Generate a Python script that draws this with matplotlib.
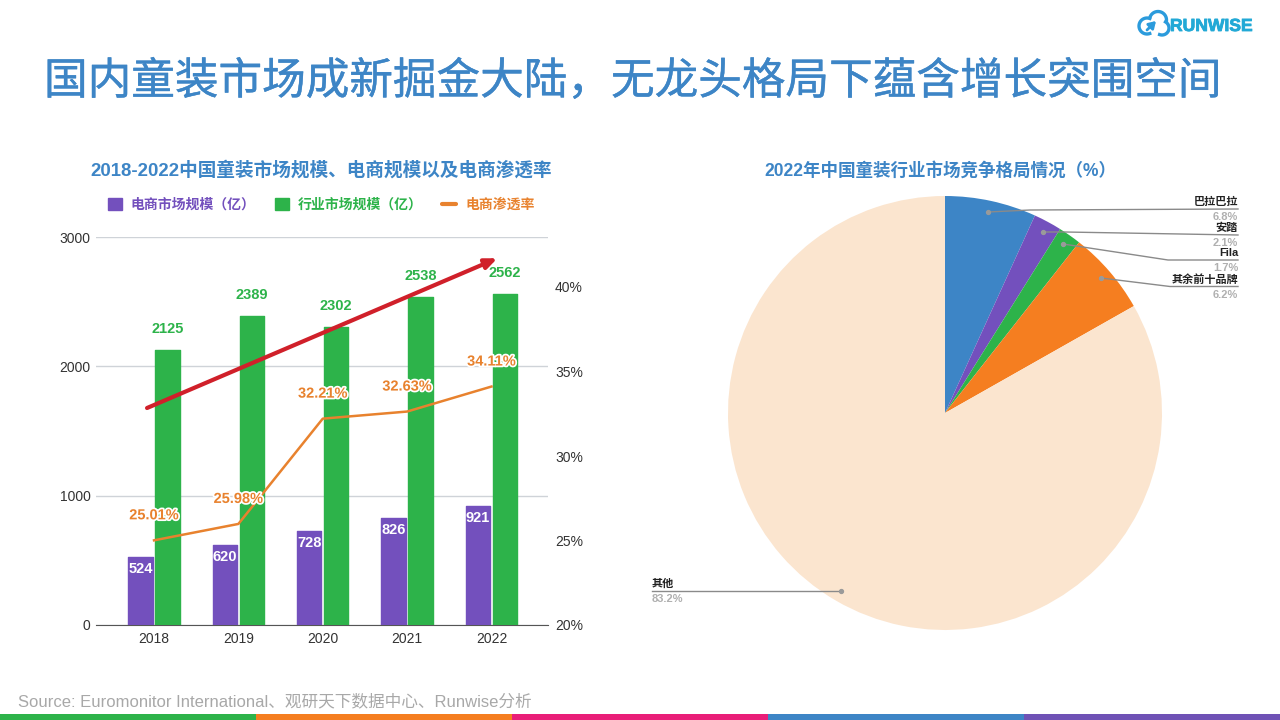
import matplotlib.pyplot as plt
import matplotlib.patheffects as pe
import numpy as np

plt.rcParams['font.family'] = ['Liberation Sans', 'Noto Sans CJK SC']

# 图表数据
years = ['2018', '2019', '2020', '2021', '2022']
ecommerce = [524, 620, 728, 826, 921]
industry = [2125, 2389, 2302, 2538, 2562]
penetration = [25.01, 25.98, 32.21, 32.63, 34.11]
left_ticks = [0, 1000, 2000, 3000]
right_ticks = [20, 25, 30, 35, 40]

brands = ['巴拉巴拉', '安踏', 'Fila', '其余前十品牌', '其他']
shares = [6.8, 2.1, 1.7, 6.2, 83.2]
pie_colors = ['#3d85c6', '#7350bd', '#2db34a', '#f57e20', '#fbe5cf']

strip_colors = ['#2db34a', '#f57e20', '#e91e78', '#3d85c6', '#6f52b5']

BLUE = '#3d85c6'
PURPLE = '#7350bd'
GREEN = '#2db34a'
ORANGE = '#e8822e'

plt.figure(figsize=(12.8, 7.2), dpi=100, facecolor='white')

# 柱状图
ax1 = plt.axes([96 / 1280, 95 / 720, 452 / 1280, 388 / 720])
x = np.arange(len(years))
b1 = plt.bar(x - 0.16, ecommerce, 0.29, color=PURPLE, edgecolor=PURPLE, linewidth=1, joinstyle='round', zorder=3)
b2 = plt.bar(x + 0.16, industry, 0.29, color=GREEN, edgecolor=GREEN, linewidth=1, joinstyle='round', zorder=3)
plt.xlim(-0.688, 4.67)
plt.ylim(0, 3000)
plt.xticks(x, years, fontsize=10, color='#333333')
plt.yticks(left_ticks, fontsize=10, color='#333333')
plt.tick_params(axis='y', length=0, pad=4)
plt.tick_params(axis='x', length=0, pad=5)
plt.grid(axis='y', color='#cfd3d8', linewidth=1, zorder=0)
for s in ['top', 'left', 'right']:
    ax1.spines[s].set_visible(False)
ax1.spines['bottom'].set_color('#555555')
for i in range(len(years)):
    plt.annotate(str(ecommerce[i]), (x[i] - 0.16, ecommerce[i]), xytext=(0, -8.6), textcoords='offset points',
                 ha='center', va='center', color='white', fontsize=10.5, fontweight='bold', zorder=5)
    plt.annotate(str(industry[i]), (x[i] + 0.16, industry[i]), xytext=(0, 15), textcoords='offset points',
                 ha='center', va='center', color=GREEN, fontsize=10.5, fontweight='bold', zorder=5)

# 渗透率折线
ax2 = plt.twinx()
ax2.patch.set_visible(False)
line, = plt.plot(x, penetration, color=ORANGE, linewidth=1.8, zorder=4)
plt.ylim(20, 20 + 388 / 16.9)
plt.yticks(right_ticks, [str(t) + '%' for t in right_ticks], fontsize=10, color='#333333')
plt.tick_params(length=0, pad=5)
for s in ['top', 'left', 'right', 'bottom']:
    ax2.spines[s].set_visible(False)
for i in range(len(years)):
    plt.annotate('%.2f%%' % penetration[i], (x[i], penetration[i]), xytext=(0, 18), textcoords='offset points',
                 ha='center', va='center', color=ORANGE, fontsize=10.5, fontweight='bold', zorder=6,
                 path_effects=[pe.withStroke(linewidth=2.5, foreground='white')])

# 红色箭头
plt.annotate('', xy=(4.07, 41.7), xytext=(-0.083, 32.84),
             arrowprops=dict(arrowstyle='-|>,head_width=0.3,head_length=0.7', color='#d0202a', linewidth=3, shrinkA=0, shrinkB=0))

leg_line, = plt.plot([], [], color=ORANGE, linewidth=3, solid_capstyle='round')
plt.figlegend([b1, b2, leg_line], ['电商市场规模\uff08亿\uff09', '行业市场规模\uff08亿\uff09', '电商渗透率'],
              loc='center', bbox_to_anchor=(321 / 1280, 1 - 205 / 720), ncol=3, frameon=False,
              handlelength=1.0, handleheight=1.0, handletextpad=0.65, columnspacing=1.4,
              labelcolor=[PURPLE, GREEN, ORANGE], prop={'size': 10, 'weight': 'bold'})

# 饼图
plt.axes([728 / 1280, 90 / 720, 434 / 1280, 434 / 720])
plt.pie(shares, colors=pie_colors, startangle=90, counterclock=False, radius=1)
plt.xlim(-1, 1)
plt.ylim(-1, 1)

# 标题和注释,坐标单位是像素
ov = plt.axes([0, 0, 1, 1])
plt.xlim(0, 1280)
plt.ylim(720, 0)
plt.axis('off')

plt.text(633, 82, '国内童装市场成新掘金大陆\uff0c无龙头格局下蕴含增长突围空间', ha='center', va='center',
         fontsize=31.4, color=BLUE, path_effects=[pe.withStroke(linewidth=0.3, foreground=BLUE)])
plt.text(321, 170, '2018-2022中国童装市场规模、电商规模以及电商渗透率', ha='center', va='center',
         fontsize=13.4, color=BLUE, fontweight='bold')
plt.text(940.5, 171, '2022年中国童装行业市场竞争格局情况\uff08%\uff09', ha='center', va='center',
         fontsize=12.65, color=BLUE, fontweight='bold')
plt.text(18, 701, 'Source: Euromonitor International、观研天下数据中心、Runwise分析', ha='left', va='center',
         fontsize=12, color='#a8a8a8')

# 引导线
leaders = [[(988, 212), (1030, 210), (1238, 209)],
           [(1043, 232), (1065, 232), (1238, 235)],
           [(1063, 244), (1168, 260), (1238, 260)],
           [(1101, 278), (1170, 286.5), (1238, 286.5)]]
for i in range(4):
    px = [p[0] for p in leaders[i]]
    py = [p[1] for p in leaders[i]]
    plt.plot(px, py, color='#8a8a8a', linewidth=1)
    plt.plot(px[0], py[0], 'o', color='#9a9a9a', markersize=2.8)
    plt.text(1238, py[2] - 1.5, brands[i], ha='right', va='bottom', fontsize=8, fontweight='bold', color='#222222')
    plt.text(1238, py[2] + 3, '%.1f%%' % shares[i], ha='right', va='top', fontsize=8, fontweight='bold', color='#b0b0b0')
plt.plot([841, 652], [591, 591], color='#8a8a8a', linewidth=1)
plt.plot(841, 591, 'o', color='#9a9a9a', markersize=2.8)
plt.text(652, 588.5, brands[4], ha='left', va='bottom', fontsize=8, fontweight='bold', color='#222222')
plt.text(652, 594, '%.1f%%' % shares[4], ha='left', va='top', fontsize=8, fontweight='bold', color='#b0b0b0')

# 底部色带
plt.bar([128, 384, 640, 896, 1152], [6] * 5, 256, bottom=714, color=strip_colors)
plt.xlim(0, 1280)
plt.ylim(720, 0)

# logo
for cx, cy, r, t0, t1 in [(1147, 26, 8, 70, 290), (1158, 20, 8.5, -5, 165), (1162, 28, 7, 60, -110)]:
    t = np.radians(np.linspace(t0, t1, 30))
    plt.plot(cx + r * np.cos(t), cy - r * np.sin(t), color='#2b9bdc', linewidth=2.4)
plt.annotate('', xy=(1156, 21), xytext=(1147, 30),
             arrowprops=dict(arrowstyle='-|>,head_width=0.25,head_length=0.4', color='#2b9bdc', linewidth=2, shrinkA=0, shrinkB=0))
plt.text(1170, 26.5, 'RUNWISE', ha='left', va='center', fontsize=12.6, fontweight='bold', color='#22a9d6',
         path_effects=[pe.withStroke(linewidth=0.6, foreground='#22a9d6')])

plt.savefig('out.png', dpi=100)
